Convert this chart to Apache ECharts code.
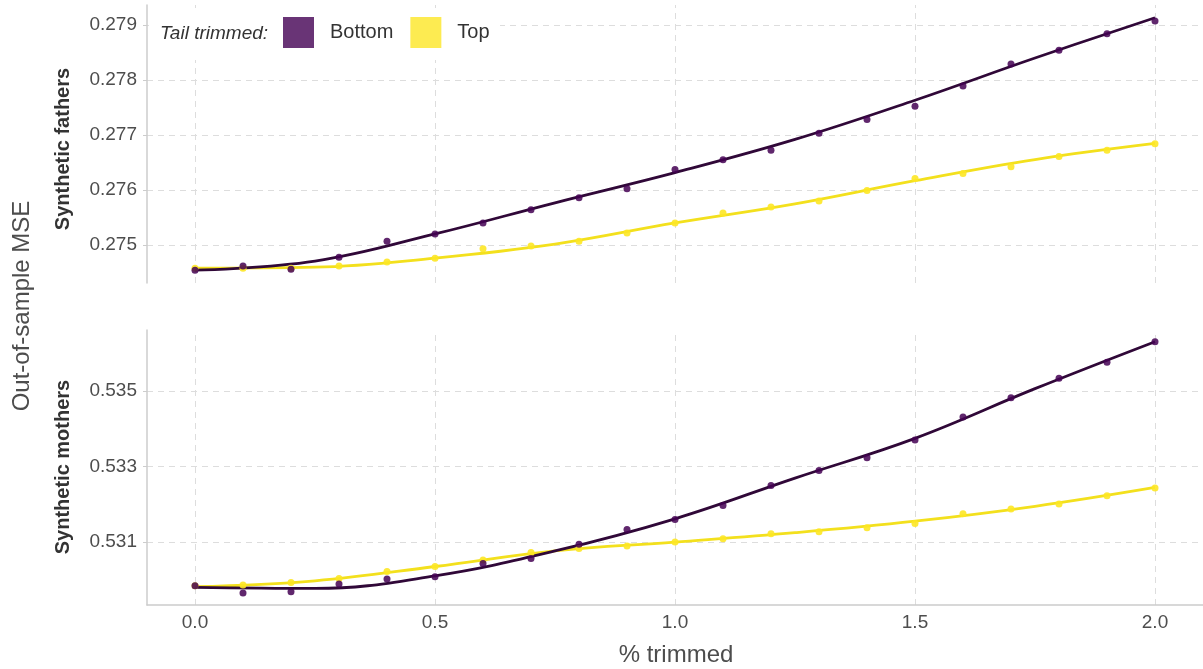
<!DOCTYPE html>
<html>
<head>
<meta charset="utf-8">
<script src="https://cdn.jsdelivr.net/npm/echarts@6/dist/echarts.min.js"></script>
<style>
html,body{margin:0;padding:0;background:#fff;}
#chart{width:1203px;height:669px;}
</style>
</head>
<body>
<div id="chart"></div>
<script>
// ---- data ----
const trimmed = [0.0,0.1,0.2,0.3,0.4,0.5,0.6,0.7,0.8,0.9,1.0,1.1,1.2,1.3,1.4,1.5,1.6,1.7,1.8,1.9,2.0];
const fathersBottom = [0.27454,0.27462,0.27456,0.27478,0.27507,0.27520,0.27540,0.27564,0.27586,0.27602,0.27637,0.27655,0.27672,0.27703,0.27728,0.27752,0.27789,0.27829,0.27854,0.27884,0.27907];
const fathersTop    = [0.27458,0.27458,0.27458,0.27462,0.27469,0.27476,0.27493,0.27498,0.27507,0.27522,0.27540,0.27558,0.27569,0.27580,0.27599,0.27621,0.27630,0.27642,0.27661,0.27672,0.27684];
const mothersBottom = [0.529849,0.529657,0.529691,0.529893,0.530025,0.530085,0.530437,0.530568,0.530944,0.531338,0.531600,0.531968,0.532501,0.532895,0.533236,0.533701,0.534313,0.534822,0.535337,0.535757,0.536301];
const mothersTop    = [0.529849,0.529867,0.529938,0.530043,0.530227,0.530358,0.530532,0.530726,0.530831,0.530899,0.531004,0.531093,0.531225,0.531277,0.531382,0.531495,0.531750,0.531881,0.532013,0.532231,0.532433];
// fitted smooth curves
const fitX = [0,0.25,0.5,0.75,1.0,1.25,1.5,1.75,2.0];
const fitFathersBottom = [0.274543,0.274708,0.275201,0.275767,0.276315,0.276918,0.277630,0.278397,0.279128];
const fitFathersTop    = [0.274580,0.274598,0.274763,0.275018,0.275402,0.275749,0.276169,0.276553,0.276845];
const fitMothersBottom = [0.529807,0.529780,0.530111,0.530768,0.531619,0.532695,0.533746,0.535059,0.536301];
const fitMothersTop    = [0.529822,0.529980,0.530358,0.530773,0.531004,0.531251,0.531556,0.531950,0.532449];
// ticks
const xTicks = [0.0,0.5,1.0,1.5,2.0];
const fathersTicks = [0.275,0.276,0.277,0.278,0.279];
const mothersTicks = [0.531,0.533,0.535];
const legendNames = ['Bottom','Top'];

// ---- styles ----
const PURPLE = '#440154', PURPLE_LINE = '#300838', PURPLE_LEG = '#693476';
const YELLOW = '#FDE725', YELLOW_LINE = '#f3e01d', YELLOW_LEG = '#fdeb51';
const GRID = '#dddddd';
const FONT = '"Liberation Sans", Arial, sans-serif';

function pairs(xs, ys){ return xs.map((x,i)=>[x, ys[i]]); }

// invisible holder series that carries the dashed grid lines
function gridSeries(idx, ys, yt){
  return {
    type:'line', xAxisIndex:idx, yAxisIndex:idx, data:pairs(fitX, ys), silent:true, z:0,
    showSymbol:false, lineStyle:{opacity:0}, itemStyle:{opacity:0},
    markLine:{
      silent:true, z:0, symbol:['none','none'], label:{show:false}, precision:6,
      lineStyle:{color:GRID, type:[6,5], width:1},
      emphasis:{disabled:true},
      data: xTicks.map(v=>({xAxis:v})).concat(yt.map(v=>({yAxis:v})))
    }
  };
}
function pts(name, idx, ys, color, op){
  return {name, type:'scatter', xAxisIndex:idx, yAxisIndex:idx, data:pairs(trimmed, ys),
    symbolSize:7, itemStyle:{color, opacity:op}, z:4};
}
function fit(name, idx, ys, color){
  return {name, type:'line', xAxisIndex:idx, yAxisIndex:idx, data:pairs(fitX, ys),
    smooth:0.4, showSymbol:false, lineStyle:{color, width:2.8}, itemStyle:{color}, z:3};
}

const yLabel = {color:'#4d4d4d', fontSize:19, fontFamily:FONT, margin:10,
  formatter:v=>v.toFixed(3)};

const option = {
  animation:false,
  backgroundColor:'#fff',
  grid:[
    {left:147, right:0, top:5, height:278},
    {left:147, right:0, top:330, height:275}
  ],
  xAxis:[
    {type:'value', gridIndex:0, min:-0.1, max:2.1,
      axisLine:{show:false}, axisTick:{show:false}, axisLabel:{show:false}, splitLine:{show:false}},
    {type:'value', gridIndex:1, min:-0.1, max:2.1,
      axisLine:{show:true, onZero:false, lineStyle:{color:'#cccccc', width:1.5}},
      axisTick:{show:false},
      axisLabel:{show:true, customValues:xTicks, color:'#4d4d4d', fontSize:19, fontFamily:FONT, margin:8,
        formatter:v=>v.toFixed(1)},
      splitLine:{show:false}}
  ],
  yAxis:[
    {type:'value', gridIndex:0, min:0.27431, max:0.27936,
      axisLine:{show:true, onZero:false, lineStyle:{color:'#cccccc', width:1.5}},
      axisTick:{show:true, customValues:fathersTicks, length:4, lineStyle:{color:'#cccccc'}},
      axisLabel:Object.assign({customValues:fathersTicks}, yLabel),
      splitLine:{show:false}},
    {type:'value', gridIndex:1, min:0.52934, max:0.53661,
      axisLine:{show:true, onZero:false, lineStyle:{color:'#cccccc', width:1.5}},
      axisTick:{show:true, customValues:mothersTicks, length:4, lineStyle:{color:'#cccccc'}},
      axisLabel:Object.assign({customValues:mothersTicks}, yLabel),
      splitLine:{show:false}}
  ],
  legend:{
    left:283, top:17, orient:'horizontal', padding:0, z:10,
    itemWidth:31, itemHeight:31, itemGap:17, icon:'rect',
    selectedMode:false,
    textStyle:{color:'#333', fontSize:20, fontFamily:FONT, padding:[3,0,0,11]},
    data:[
      {name:legendNames[0], itemStyle:{color:PURPLE_LEG, opacity:1}},
      {name:legendNames[1], itemStyle:{color:YELLOW_LEG, opacity:1}}
    ]
  },
  graphic:[
    {type:'rect', z:5, shape:{x:149, y:9, width:351, height:51}, style:{fill:'#ffffff'}, silent:true},
    {type:'text', z:10, left:160, top:24, style:{text:'Tail trimmed:', fill:'#333', font:'italic 19px "Liberation Sans", Arial, sans-serif'}},
    {type:'text', x:22, y:306, rotation:Math.PI/2,
      style:{text:'Out-of-sample MSE', fill:'#4d4d4d', font:'24px "Liberation Sans", Arial, sans-serif', align:'center', verticalAlign:'middle'}},
    {type:'text', x:63, y:149, rotation:Math.PI/2,
      style:{text:'Synthetic fathers', fill:'#333', font:'bold 20px "Liberation Sans", Arial, sans-serif', align:'center', verticalAlign:'middle'}},
    {type:'text', x:63, y:467, rotation:Math.PI/2,
      style:{text:'Synthetic mothers', fill:'#333', font:'bold 20px "Liberation Sans", Arial, sans-serif', align:'center', verticalAlign:'middle'}},
    {type:'text', x:676, y:655,
      style:{text:'% trimmed', fill:'#4d4d4d', font:'24px "Liberation Sans", Arial, sans-serif', align:'center', verticalAlign:'middle'}}
  ],
  series:[
    gridSeries(0, fitFathersTop, fathersTicks),
    gridSeries(1, fitMothersTop, mothersTicks),
    fit(legendNames[1], 0, fitFathersTop, YELLOW_LINE),
    fit(legendNames[0], 0, fitFathersBottom, PURPLE_LINE),
    fit(legendNames[1], 1, fitMothersTop, YELLOW_LINE),
    fit(legendNames[0], 1, fitMothersBottom, PURPLE_LINE),
    pts(legendNames[1], 0, fathersTop, YELLOW, 0.9),
    pts(legendNames[0], 0, fathersBottom, PURPLE, 0.85),
    pts(legendNames[1], 1, mothersTop, YELLOW, 0.9),
    pts(legendNames[0], 1, mothersBottom, PURPLE, 0.85)
  ]
};
const chart = echarts.init(document.getElementById('chart'), null, {renderer:'canvas'});
chart.setOption(option);
</script>
</body>
</html>
